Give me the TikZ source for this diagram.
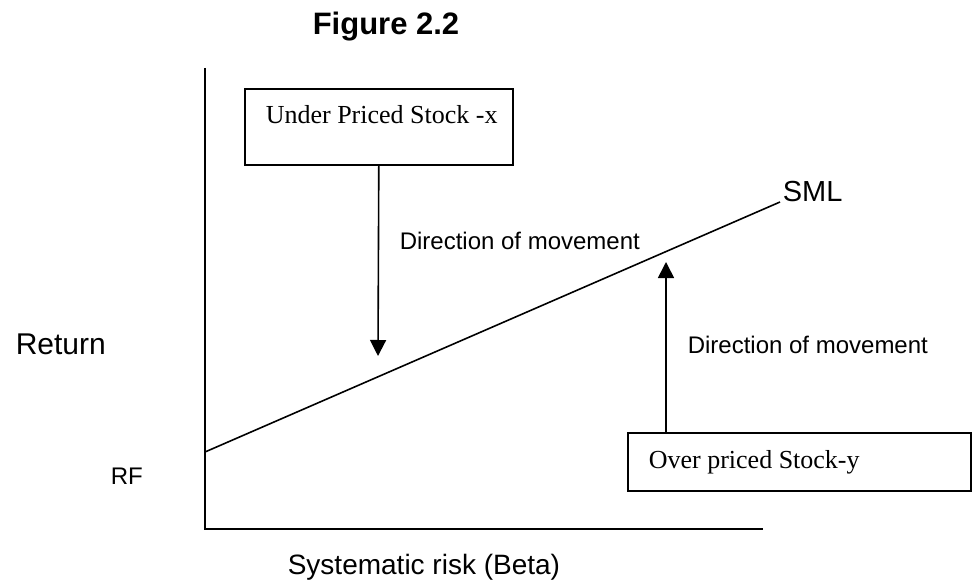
\documentclass[tikz,border=0pt]{standalone}
\usepackage{fontspec}
\setmainfont{Liberation Serif}
\newfontfamily\arialf{Liberation Sans}
\newfontfamily\tnrf{Liberation Serif}
\usetikzlibrary{arrows.meta}
\begin{document}
\begin{tikzpicture}[x=1pt,y=-1pt,line width=1.6pt,
  box/.style={draw,line width=1.6pt,inner sep=0pt,anchor=north west},
  bigsans/.style={font={\arialf\fontsize{29}{31}\selectfont},inner sep=0pt,anchor=base west},
  smallsans/.style={font={\arialf\fontsize{24}{26}\selectfont},inner sep=0pt,anchor=base west},
  serif/.style={font={\tnrf\fontsize{26}{28}\selectfont},inner sep=0pt,anchor=base west},
  arr/.style={-{Triangle[length=16pt,width=16pt]},line width=1.6pt}]
\useasboundingbox (0,0) rectangle (972,580);
% title
\node[font={\arialf\bfseries\fontsize{31}{33}\selectfont},inner sep=0pt,anchor=base west] (title) at (312,35) {Figure 2.2};
% axes
\coordinate (ytop) at (205,68);
\coordinate (origin) at (205,529);
\coordinate (xend) at (763,529);
\draw (ytop) -- (origin) -- (xend);
% SML line
\coordinate (rf) at (205,452);
\coordinate (smlend) at (780,202);
\draw (rf) -- (smlend);
\node[bigsans] (sml) at (782,202) {SML};
% boxes
\node[box,minimum width=268pt,minimum height=76pt] (ubox) at (244,88) {};
\node[serif] (utext) at (265,124) {Under Priced Stock -x};
\node[box,minimum width=343pt,minimum height=58pt] (obox) at (627,432) {};
\node[serif] (otext) at (648,468) {Over priced Stock-y};
% arrows
\coordinate (dtip) at (378,356);
\draw[arr] (ubox.south) -- (dtip);
\coordinate (utip) at (666,262);
\draw[arr] (obox.north -| utip) -- (utip);
\node[smallsans] (dir1) at (399,250) {Direction of movement};
\node[smallsans] (dir2) at (687,353) {Direction of movement};
% axis labels
\node[bigsans,font={\arialf\fontsize{30}{32}\selectfont}] (ret) at (15,354) {Return};
\node[smallsans] (rflab) at (110,484) {RF};
\node[bigsans,font={\arialf\fontsize{28}{30}\selectfont}] (xlab) at (287,574) {Systematic risk (Beta)};
\end{tikzpicture}
\end{document}
